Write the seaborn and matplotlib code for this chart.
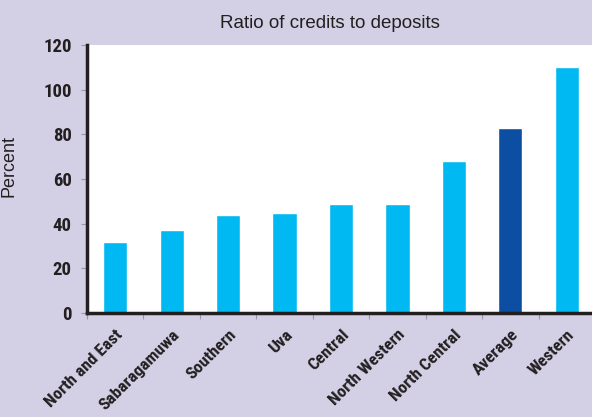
import matplotlib
matplotlib.use("Agg")
import matplotlib.pyplot as plt
import seaborn as sns
import pandas as pd
import numpy as np
from matplotlib import font_manager as fm

regions = ["North and East", "Sabaragamuwa", "Southern", "Uva", "Central",
           "North Western", "North Central", "Average", "Western"]
ratios = [32, 37, 44, 45, 49, 49, 68, 83, 110]
highlight = "Average"

bg = "#D3D0E6"
light = "#00B9F2"
dark = "#0B4EA2"
ink = "#231F20"

sns.set_theme(style="white")
plt.rcParams["font.family"] = ["DejaVu Sans"]

names = {f.name for f in fm.fontManager.ttflist}
narrow = None
for cand in ["Liberation Sans Narrow", "DejaVu Sans Condensed", "Roboto Condensed"]:
    if cand in names:
        narrow = cand
        break
tick_font = dict(family=[narrow or "DejaVu Sans"], fontweight="bold",
                 fontstretch="condensed", color=ink)
plain_font = dict(family=["Liberation Sans", "DejaVu Sans"], color=ink)

df = pd.DataFrame({"region": regions, "ratio": ratios})
palette = {r: (dark if r == highlight else light) for r in regions}

fig = plt.figure(figsize=(5.92, 4.17), dpi=100, facecolor=bg)
ax = fig.add_axes([0.147, 0.249, 0.858, 0.643])
ax.set_facecolor("white")

sns.barplot(data=df, x="region", y="ratio", hue="region", palette=palette,
            width=0.43, legend=False, ax=ax, saturation=1)

ax.set_xlim(-0.5, len(regions) - 0.5)
ax.set_ylim(0, 120)
ax.set_yticks(np.arange(0, 121, 20))
ax.set_yticklabels([str(v) for v in range(0, 121, 20)], fontsize=13.5, **tick_font)
ax.set_xticks(range(len(regions)))
ax.set_xticklabels(regions, rotation=45, ha="right", rotation_mode="anchor",
                   fontsize=12.5, **tick_font)
ax.tick_params(axis="x", which="major", length=0, pad=10)
ax.set_xticks(np.arange(-0.5, len(regions), 1), minor=True)
ax.tick_params(axis="x", which="minor", length=4, color="#9A98A8", width=0.8, bottom=True)
ax.tick_params(axis="y", length=4, color="#9A98A8", width=0.8, left=True, pad=7)

for side in ["top", "right"]:
    ax.spines[side].set_visible(False)
for side in ["left", "bottom"]:
    ax.spines[side].set_color(ink)
    ax.spines[side].set_linewidth(2.5)

ax.set_xlabel("")
ax.set_ylabel("Percent", fontsize=13, **plain_font)
ax.yaxis.set_label_coords(-0.136, 0.55)
fig.text(0.557, 0.933, "Ratio of credits to deposits", ha="center", va="baseline",
         fontsize=13.5, **plain_font)

fig.savefig("out.png", dpi=100, facecolor=bg)
